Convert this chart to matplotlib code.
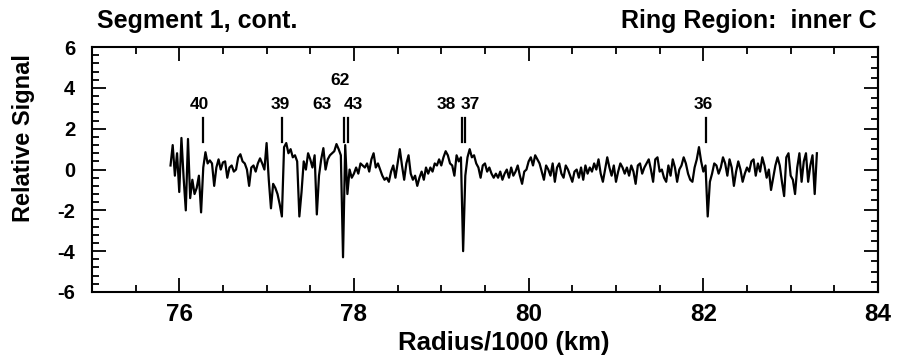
from matplotlib import pyplot as plt
from matplotlib.ticker import MultipleLocator
import numpy as np

# radius grid (1000 km), one sample every 25 km
r_start = 75.9
r_step = 0.025

signal = [
    0.2, 1.2, -0.3, 0.8, -1.1, 1.55, -0.4, -2.0, 1.5, -1.4,
    -0.5, -1.2, -0.9, -0.3, -2.1, 0.1, 0.85, 0.3, 0.45, 0.3,
    -0.8, 0.1, 0.5, 0.0, 0.35, 0.4, -0.4, 0.1, 0.2, -0.1,
    0.0, 0.6, 0.75, 0.4, 0.3, 0.0, -0.8, 0.1, 0.2, -0.1,
    0.3, 0.55, 0.3, 0.0, 1.3, -0.5, -1.9, -0.7, -0.9, -1.2,
    -1.7, -2.3, 1.1, 1.3, 0.8, 1.0, 0.6, 0.7, 0.4, -2.3,
    -1.1, 0.4, 0.0, 0.8, 0.5, 0.1, 0.7, -2.2, -0.3, 0.5,
    1.05, 0.0, 0.5, 0.7, 0.8, 0.9, 1.25, 1.0, 0.7, -4.3,
    1.2, -1.2, 0.0, -0.4, -0.2, 0.1, -0.2, 0.3, 0.2, 0.1,
    0.3, -0.1, 0.5, 0.8, 0.1, 0.3, 0.0, -0.3, -0.5,
    -0.4, -0.6, -0.1, 0.2, -0.4, 0.3, 1.0, 0.2, -0.5, 0.3,
    0.7, -0.2, -0.5, -0.3, -0.8, -0.4, -0.1, -0.5, 0.1, -0.2,
    0.1, -0.1, 0.3, 0.2, 0.5, 0.2, 0.6, 0.9, 0.7, 0.3,
    0.2, -0.3, 0.7, 0.4, 0.6, -4.0, -0.3, 0.6, 1.0, 0.6,
    0.7, 0.3, 0.1, -0.4, 0.2, 0.3, -0.1, 0.1, -0.2, -0.4,
    -0.2, -0.4, -0.1, -0.5, -0.2, 0.0, -0.4, 0.1, -0.3, -0.1,
    0.2, -0.3, -0.7, -0.1, 0.0, 0.4, 0.6, 0.2, 0.7, 0.5,
    0.3, -0.1, -0.5, 0.2, 0.0, -0.3, 0.3, -0.6, 0.1, 0.3,
    -0.2, -0.4, 0.2, 0.0, -0.3, -0.6, -0.1, 0.0, -0.4, 0.1,
    -0.5, 0.2, -0.2, 0.1, -0.1, 0.3, 0.0, 0.5, -0.2, -0.6, 0.0,
    0.6, 0.1, -0.3, 0.2, -0.6, -0.1, 0.3, 0.1, -0.2, 0.1,
    -0.3, 0.2, -0.1, -0.7, 0.2, 0.3, -0.2, 0.1, 0.3, 0.5,
    0.0, -0.6, 0.5, 0.6, -0.1, 0.0, -0.4, -0.6, 0.2, -0.3,
    0.5, 0.1, -0.6, 0.0, 0.2, 0.6, 0.3, -0.2, -0.5, -0.6,
    0.1, 0.5, 1.1, 0.4, -0.1, 0.2, -2.3, -0.6, -0.2, 0.3,
    0.2, -0.2, 0.1, 0.6, 0.3, -0.3, 0.5, 0.1, -0.8, -0.1,
    0.4, 0.0, -0.6, -0.2, 0.1, -0.1, 0.4, 0.5, -0.3, 0.3,
    -0.1, 0.6, 0.2, -0.4, 0.0, -1.0, -0.4, 0.2, 0.6, 0.2,
    -0.6, -1.3, 0.6, 0.8, -0.3, -0.5, -1.2, 0.1, 0.8, -0.6,
    0.4, 0.8, -0.6, 0.2, 0.7, -1.2, 0.8,
]

# feature markers: label, radius of tick mark
marker_radii = [76.275, 77.18, 77.885, 77.93, 79.235, 79.275, 82.03]
label_texts = ["40", "39", "63", "43", "62", "38", "37", "36"]
label_radii = [76.23, 77.16, 77.63, 77.99, 77.84, 79.06, 79.33, 82.0]
label_levels = [3.2, 3.2, 3.2, 3.2, 4.35, 3.2, 3.2, 3.2]

FONT = "Liberation Sans"
plt.rcParams["axes.unicode_minus"] = False

radius = r_start + r_step * np.arange(len(signal))

fig = plt.figure(figsize=(9.01, 3.6), dpi=100)
ax = fig.add_axes([0.102, 0.189, 0.8725, 0.680])

ax.plot(radius, signal, color="black", lw=1.6)

for r in marker_radii:
    ax.plot([r, r], [1.35, 2.55], color="black", lw=1.6)
for txt, r, lev in zip(label_texts, label_radii, label_levels):
    ax.text(r, lev, txt, ha="center", va="center", fontsize=12.5,
            fontweight="bold", family=FONT)

ax.set_xlim(75, 84)
ax.set_ylim(-6, 6)
ax.xaxis.set_major_locator(MultipleLocator(2))
ax.xaxis.set_minor_locator(MultipleLocator(0.5))
ax.yaxis.set_major_locator(MultipleLocator(2))
ax.yaxis.set_minor_locator(MultipleLocator(0.4))

ax.tick_params(which="both", direction="in", top=True, right=False,
               width=1.3, color="black")
ax.tick_params(which="major", length=10)
ax.tick_params(which="minor", length=5)
ax.tick_params(axis="x", labelsize=17.5, pad=8)
ax.tick_params(axis="y", labelsize=14.5, pad=12)
for lab in ax.get_xticklabels() + ax.get_yticklabels():
    lab.set_fontweight("bold")
    lab.set_family(FONT)

right = ax.secondary_yaxis("right")
right.yaxis.set_major_locator(MultipleLocator(2))
right.yaxis.set_minor_locator(MultipleLocator(0.5))
right.tick_params(which="both", direction="in", labelright=False, width=1.3)
right.tick_params(which="major", length=10)
right.tick_params(which="minor", length=5)
right.spines["right"].set_linewidth(1.5)

for s in ax.spines.values():
    s.set_linewidth(1.5)

ax.set_xlabel("Radius/1000 (km)", fontsize=18.5, fontweight="bold", family=FONT)
ax.xaxis.set_label_coords(0.5235, -0.16)
ax.xaxis.label.set_va("top")
ax.set_ylabel("Relative Signal", fontsize=17, fontweight="bold", family=FONT)
ax.yaxis.set_label_coords(-0.072, 0.63)

fig.text(97 / 901, 0.922, "Segment 1, cont.", fontsize=18, fontweight="bold",
         family=FONT, ha="left", va="baseline")
fig.text(877 / 901, 0.922, "Ring Region:  inner C", fontsize=18,
         fontweight="bold", family=FONT, ha="right", va="baseline")

fig.savefig("out.png", dpi=100)
